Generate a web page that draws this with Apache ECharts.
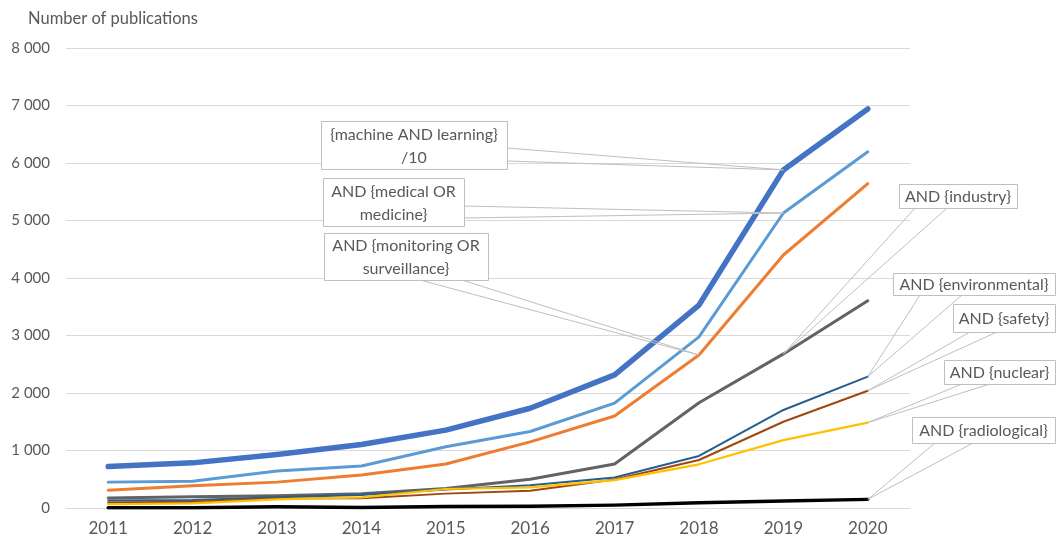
<!DOCTYPE html>
<html>
<head>
<meta charset="utf-8">
<script src="https://cdn.jsdelivr.net/npm/echarts@6/dist/echarts.min.js"></script>
<style>
html,body{margin:0;padding:0;background:#fff;}
#main{width:1056px;height:544px;}
</style>
</head>
<body>
<div id="main"></div>
<script>
// ---- data ----
const years = ['2011','2012','2013','2014','2015','2016','2017','2018','2019','2020'];
const seriesNames = ['{machine AND learning}/10','AND {medical OR medicine}','AND {monitoring OR surveillance}','AND {industry}','AND {environmental}','AND {safety}','AND {nuclear}','AND {radiological}'];
const machineLearning10 = [720, 785, 930, 1105, 1355, 1735, 2315, 3530, 5880, 6940];
const medical          = [450, 465, 645, 730, 1065, 1330, 1825, 2975, 5130, 6195];
const monitoring       = [310, 385, 450, 575, 765, 1150, 1600, 2660, 4400, 5640];
const industry         = [175, 195, 215, 250, 340, 500, 765, 1830, 2680, 3605];
const environmental    = [130, 140, 185, 225, 320, 395, 530, 905, 1705, 2285];
const safety           = [95, 110, 165, 170, 250, 300, 495, 835, 1500, 2040];
const nuclear          = [65, 80, 150, 185, 330, 360, 485, 760, 1180, 1485];
const radiological     = [5, 5, 20, 10, 25, 30, 50, 90, 120, 150];
const yTicks = [0, 1000, 2000, 3000, 4000, 5000, 6000, 7000, 8000];
const calloutTexts = ['{machine AND learning}\n/10','AND {medical OR\nmedicine}','AND {monitoring OR\nsurveillance}','AND {industry}','AND {environmental}','AND {safety}','AND {nuclear}','AND {radiological}'];
const calloutYearIndex = [8, 8, 7, 8, 9, 9, 9, 9];

// ---- styles ----
const allData = [machineLearning10, medical, monitoring, industry, environmental, safety, nuclear, radiological];
const colors = ['#4472C4','#5B9BD5','#ED7D31','#636363','#255E91','#9E480E','#FFC000','#000000'];
const widths = [5.5, 3, 3, 3, 2, 2, 2.2, 3.5];
const FONT = 'Lato, "Open Sans", sans-serif';
const TXT = '#595959';

// callout boxes: [x, y, w, h, leaderA, leaderB]
const boxes = [
  [321,121,186,48,[507,148],[507,161]],
  [323,178,141,48,[464,206],[464,218]],
  [324,233,164,47,[420,280],[462,280]],
  [899,184,118,24,[915,208],[947,208]],
  [893,273,162,22,[920,295],[962,295]],
  [953,304,102,28,[970,332],[997,332]],
  [944,360,111,24,[962,384],[990,384]],
  [912,417,143,26,[935,443],[973,443]]
];

const chart = echarts.init(document.getElementById('main'));
const option = {
  animation: false,
  backgroundColor: '#fff',
  title: {
    text: 'Number of publications', left: 23, top: 5,
    textStyle: {fontFamily: FONT, fontSize: 16.5, fontWeight: 'normal', color: TXT}
  },
  grid: {left: 66, right: 146, top: 48, bottom: 36, containLabel: false},
  xAxis: {
    type: 'category', data: years, boundaryGap: true,
    axisLine: {show: true, lineStyle: {color: '#D9D9D9', width: 1}},
    axisTick: {show: false},
    axisLabel: {fontFamily: FONT, fontSize: 17, color: TXT, margin: 12}
  },
  yAxis: {
    type: 'value', min: yTicks[0], max: yTicks[yTicks.length-1], interval: 1000,
    axisLine: {show: false}, axisTick: {show: false},
    splitLine: {lineStyle: {color: '#D9D9D9', width: 1}},
    axisLabel: {fontFamily: FONT, fontSize: 15, color: TXT, margin: 16,
      formatter: v => String(v).replace(/\B(?=(\d{3})+(?!\d))/g, ' ')}
  },
  series: allData.map((d, i) => ({
    name: seriesNames[i], type: 'line', data: d, symbol: 'none',
    z: i === 0 ? 4 : 2,
    lineStyle: {color: colors[i], width: widths[i], join: 'round', cap: 'round'},
    itemStyle: {color: colors[i]}
  }))
};
chart.setOption(option);

function drawCallouts() {
  const g = [];
  boxes.forEach((b, i) => {
    const idx = calloutYearIndex[i];
    const p = chart.convertToPixel({seriesIndex: i}, [idx, allData[i][idx]]);
    g.push({type: 'polyline', z: 100, silent: true,
      shape: {points: [b[4], p, b[5]]},
      style: {stroke: '#BFBFBF', fill: null, lineWidth: 1}});
    g.push({type: 'rect', z: 101, silent: true,
      shape: {x: b[0] + 0.5, y: b[1] + 0.5, width: b[2], height: b[3]},
      style: {fill: '#fff', stroke: '#BFBFBF', lineWidth: 1}});
    g.push({type: 'text', z: 102, silent: true,
      x: b[0] + b[2] / 2, y: b[1] + b[3] / 2 + 1,
      style: {text: calloutTexts[i], font: '16px ' + FONT, fill: TXT,
        align: 'center', verticalAlign: 'middle', lineHeight: 23}});
  });
  chart.setOption({graphic: g});
}
drawCallouts();
</script>
</body>
</html>
